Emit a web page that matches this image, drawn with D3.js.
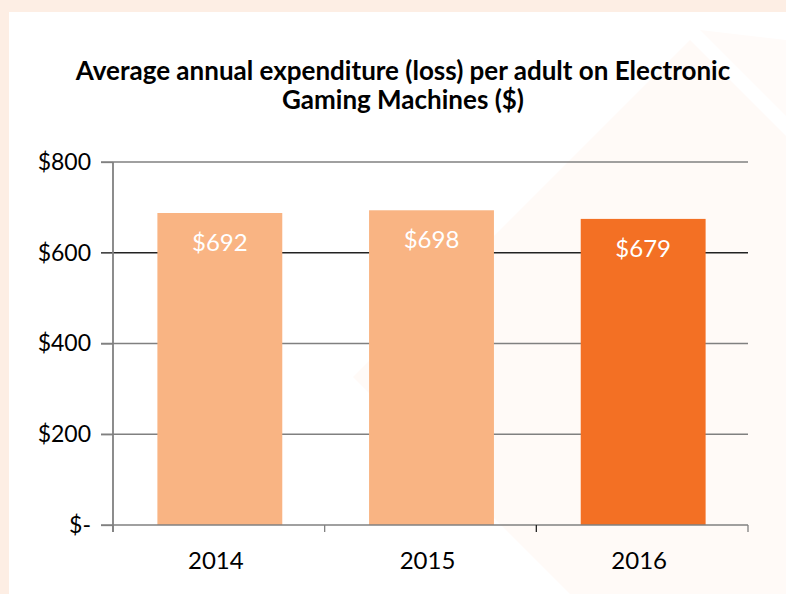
<!DOCTYPE html>
<html>
<head>
<meta charset="utf-8">
<script src="https://cdn.jsdelivr.net/npm/d3@7"></script>
<style>
  html, body { margin: 0; padding: 0; background: #fdeee4; }
  svg { display: block; }
</style>
</head>
<body>
<script>
const categories = ["2014", "2015", "2016"];
const values = [692, 698, 679];
const valueLabels = ["$692", "$698", "$679"];
const yTicks = [0, 200, 400, 600, 800];
const yTickLabels = ["$-", "$200", "$400", "$600", "$800"];
const titleLines = ["Average annual expenditure (loss) per adult on Electronic", "Gaming Machines ($)"];
const barColors = ["#f9b483", "#f9b483", "#f37024"];

const W = 786, H = 594;
const svg = d3.select("body").append("svg").attr("width", W).attr("height", H);

// background
svg.append("rect").attr("width", W).attr("height", H).attr("fill", "#fdeee4");
svg.append("rect").attr("x", 9).attr("y", 12).attr("width", W - 9).attr("height", H - 12).attr("fill", "#ffffff");
// faint decorative shapes
svg.append("path").attr("d", "M690,40 L353,377 L570,594 L786,594 L786,136 Z").attr("fill", "#fffaf7");
svg.append("path").attr("d", "M700,30 L786,116 L786,40 Z").attr("fill", "#fffbf9");

const font = "Lato, 'Open Sans', sans-serif";

// title
svg.append("g").selectAll("text").data(titleLines).join("text")
  .attr("x", 403).attr("y", (d, i) => 80 + i * 29)
  .attr("text-anchor", "middle")
  .attr("font-family", font).attr("font-weight", "bold").attr("font-size", 26)
  .attr("fill", "#000").text(d => d);

const y = d3.scaleLinear().domain([0, 800]).range([525, 162]);
const x = d3.scaleBand().domain(categories).range([113, 748]).paddingInner(0.41).paddingOuter(0.205);

const axisColor = "#808080";

// gridlines
svg.append("g").selectAll("line").data(yTicks.filter(d => d > 0)).join("line")
  .attr("x1", 101).attr("x2", 748)
  .attr("y1", d => y(d)).attr("y2", d => y(d))
  .attr("stroke", d => d === 600 ? "#222" : axisColor).attr("stroke-width", 1.3);

// bars
svg.append("g").selectAll("rect").data(values).join("rect")
  .attr("x", (d, i) => x(categories[i]) + 1)
  .attr("width", x.bandwidth())
  .attr("y", d => y(d) + 2)
  .attr("height", d => y(0) - y(d) - 2)
  .attr("fill", (d, i) => barColors[i]);

// value labels
svg.append("g").selectAll("text").data(values).join("text")
  .attr("x", (d, i) => x(categories[i]) + x.bandwidth() / 2 + 1)
  .attr("y", d => y(d) + 40)
  .attr("text-anchor", "middle")
  .attr("font-family", font).attr("font-size", 24)
  .attr("fill", "#ffffff")
  .text((d, i) => valueLabels[i]);

// y axis
const yAxis = d3.axisLeft(y).tickValues(yTicks).tickFormat((d, i) => yTickLabels[i]).tickSize(12).tickPadding(10);
const gy = svg.append("g").attr("transform", "translate(113,0)").call(yAxis);
gy.select(".domain").remove();
gy.selectAll(".tick line").attr("stroke", axisColor).attr("stroke-width", 1.3);
gy.selectAll(".tick text").attr("font-family", font).attr("font-size", 23).attr("fill", "#000");
svg.append("line").attr("x1", 113).attr("x2", 113).attr("y1", 162).attr("y2", 532)
  .attr("stroke", axisColor).attr("stroke-width", 1.8);

// x axis
svg.append("line").attr("x1", 101).attr("x2", 748).attr("y1", y(0)).attr("y2", y(0))
  .attr("stroke", axisColor).attr("stroke-width", 1.3);
const boundaries = [113, ...categories.map(c => x(c) + x.bandwidth() + x.step() * x.paddingInner() / 2)];
boundaries[3] = 748;
svg.append("g").selectAll("line").data(boundaries).join("line")
  .attr("x1", d => d).attr("x2", d => d).attr("y1", y(0)).attr("y2", 532)
  .attr("stroke", (d, i) => i === 2 ? "#222" : axisColor).attr("stroke-width", 1.3);
svg.append("g").selectAll("text").data(categories).join("text")
  .attr("x", d => x(d) + x.bandwidth() / 2 - 3)
  .attr("y", 569)
  .attr("text-anchor", "middle")
  .attr("font-family", font).attr("font-size", 24).attr("fill", "#000")
  .text(d => d);
</script>
</body>
</html>
